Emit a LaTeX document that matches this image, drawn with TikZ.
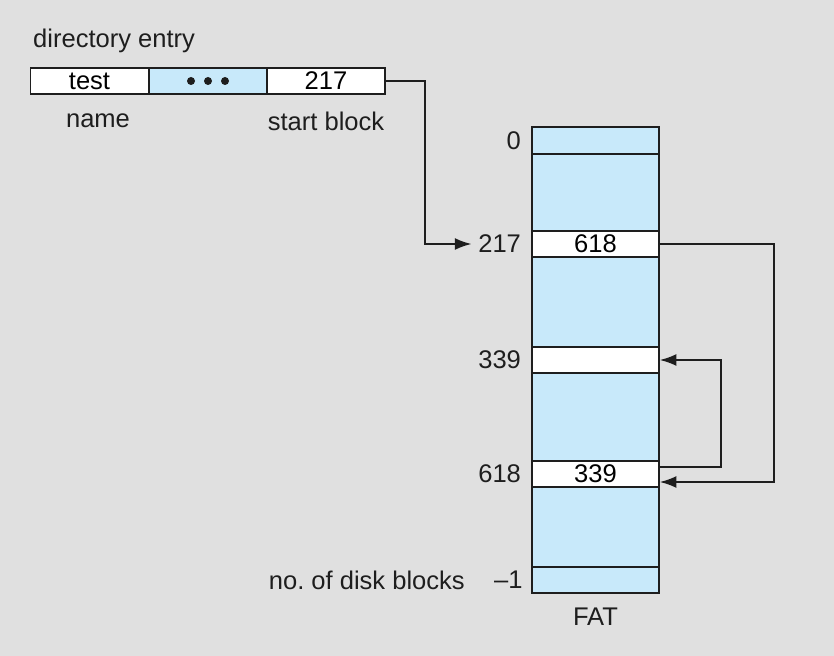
\documentclass[tikz,border=0pt]{standalone}
\usepackage{fontspec}
\setmainfont{Liberation Sans}
\usetikzlibrary{positioning,arrows.meta}
\definecolor{bggray}{HTML}{E0E0E0}
\definecolor{cellblue}{HTML}{C8E9FA}
\definecolor{ink}{HTML}{1E1E1E}
\tikzset{
  entry/.style={
    draw=ink,
    line width=1.4pt,
    minimum width=3.54cm,
    minimum height=0.78cm,
    inner sep=0pt,
    fill=white
  },
  slot/.style={
    draw=ink,
    line width=1.4pt,
    minimum width=3.81cm,
    minimum height=0.78cm,
    inner sep=0pt,
    fill=white
  },
  idx/.style={
    inner ysep=0pt,
    inner xsep=0.2cm,
    text=ink
  },
  txt/.style={
    inner sep=0pt,
    text=ink
  },
  link/.style={
    draw=ink,
    line width=1.4pt,
    -{Latex[length=0.5cm,width=0.36cm]}
  }
}
\begin{document}
\begin{tikzpicture}[x=0.03cm,y=-0.03cm,font=\fontsize{21.8}{26}\selectfont]
            \fill[bggray] (0,0) rectangle (834,656);
            \useasboundingbox (0,0) rectangle (834,656);
            % directory entry
            \node[txt,anchor=west] (dirtitle) at (33,41) {directory entry};
            \node[entry] (dname) at (89.5,81) {test};
            \node[entry,fill=cellblue] (ddots) at (208,81) {};
            \node[entry] (dstart) at (326,81) {217};
            \foreach \dx in {-17,0,17}
                \fill[ink] ([xshift=\dx*0.03cm]ddots.center) circle[radius=0.12cm];
            \node[txt] (lname) at (98,121) {name};
            \node[txt] (lstart) at (326,121) {start block};
            % FAT column
            \node[slot,fill=cellblue,minimum height=13.98cm] (fat) at (595.5,360) {};
            \node[slot,fill=cellblue,minimum height=0.81cm] (r0) at (595.5,140.5) {};
            \node[slot] (r217) at (595.5,244) {618};
            \node[slot] (r339) at (595.5,360) {};
            \node[slot] (r618) at (595.5,474) {339};
            \node[slot,fill=cellblue] (rlast) at (595.5,580) {};
            \node[idx,left=0.1cm of r0] (l0) {0};
            \node[idx,left=0.1cm of r217] (l217) {217};
            \node[idx,left=0.1cm of r339] (l339) {339};
            \node[idx,left=0.1cm of r618] (l618) {618};
            \node[idx,left=0.05cm of rlast] (llast) {–1};
            \node[txt,anchor=east] (ldisk) at (465,580) {no.\ of disk blocks};
            \node[txt] (lfat) at (595.5,617) {FAT};
            % chain
            \draw[link] (dstart.east) -- ++(39,0) |- (l217.west);
            \draw[link] (r217.east) -- ++(114,0) |- ([yshift=-0.24cm]r618.east);
            \draw[link] ([yshift=0.21cm]r618.east) -- ++(61,0) |- (r339.east);
\end{tikzpicture}
\end{document}
